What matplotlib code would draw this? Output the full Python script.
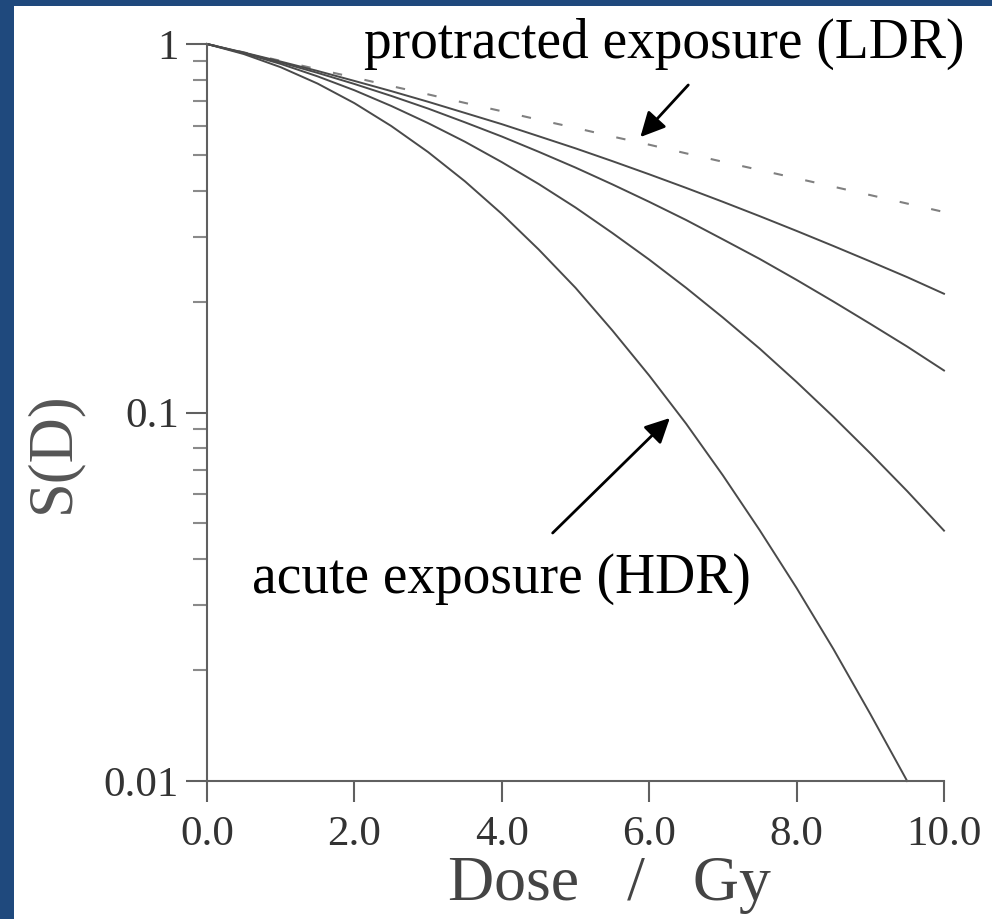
import matplotlib.pyplot as plt
from matplotlib.patches import Rectangle
from matplotlib.ticker import FixedLocator, FixedFormatter

# dose points (Gy) and surviving fractions
dose = [0.0, 0.5, 1.0, 1.5, 2.0, 2.5, 3.0, 3.5, 4.0, 4.5, 5.0,
        5.5, 6.0, 6.5, 7.0, 7.5, 8.0, 8.5, 9.0, 9.5, 10.0]

s_ldr = [1.0, 0.949, 0.900, 0.854, 0.811, 0.769, 0.730, 0.692, 0.657, 0.623, 0.592,
         0.561, 0.533, 0.505, 0.479, 0.455, 0.432, 0.410, 0.389, 0.369, 0.350]
s_mid1 = [1.0, 0.948, 0.896, 0.845, 0.794, 0.745, 0.697, 0.650, 0.606, 0.562, 0.521,
          0.481, 0.443, 0.407, 0.373, 0.341, 0.311, 0.283, 0.257, 0.233, 0.210]
s_mid2 = [1.0, 0.946, 0.891, 0.835, 0.779, 0.723, 0.668, 0.613, 0.561, 0.510, 0.462,
          0.416, 0.373, 0.333, 0.295, 0.261, 0.229, 0.200, 0.174, 0.151, 0.130]
s_mid3 = [1.0, 0.944, 0.883, 0.817, 0.749, 0.679, 0.610, 0.543, 0.478, 0.417, 0.360,
          0.307, 0.260, 0.218, 0.181, 0.149, 0.121, 0.0973, 0.0775, 0.0612, 0.0478]
dose_hdr = dose[:20]
s_hdr = [1.0, 0.939, 0.865, 0.781, 0.691, 0.599, 0.509, 0.424, 0.346, 0.277, 0.218,
         0.167, 0.126, 0.0933, 0.0675, 0.0479, 0.0334, 0.0228, 0.0152, 0.0100]

x_ticks = [0, 2, 4, 6, 8, 10]
x_labels = ["0.0", "2.0", "4.0", "6.0", "8.0", "10.0"]
y_ticks = [0.01, 0.1, 1]
y_labels = ["0.01", "0.1", "1"]

serif = "Liberation Serif"

fig = plt.figure(figsize=(9.92, 9.19), dpi=100, facecolor="#1F497D")
# white slide area inside the blue frame (left and top)
fig.patches.append(Rectangle((14 / 992, 0), 1, 1 - 6 / 919, transform=fig.transFigure,
                             facecolor="white", edgecolor="none", zorder=-10))

ax = fig.add_axes([207 / 992, 1 - 781 / 919, (944 - 207) / 992, (781 - 44) / 919])
ax.set_facecolor("none")

line_col = "#4a4a4a"
ax.plot(dose, s_ldr, color="#808080", lw=1.5, dashes=(4.5, 11), clip_on=False)
ax.plot(dose, s_mid1, color=line_col, lw=1.4, clip_on=False)
ax.plot(dose, s_mid2, color=line_col, lw=1.4, clip_on=False)
ax.plot(dose, s_mid3, color=line_col, lw=1.4, clip_on=False)
ax.plot(dose_hdr, s_hdr, color=line_col, lw=1.4, clip_on=False)

ax.set_yscale("log")
ax.set_xlim(0, 10)
ax.set_ylim(0.01, 1)

ax.xaxis.set_major_locator(FixedLocator(x_ticks))
ax.xaxis.set_major_formatter(FixedFormatter(x_labels))
ax.yaxis.set_major_locator(FixedLocator(y_ticks))
ax.yaxis.set_major_formatter(FixedFormatter(y_labels))
ax.xaxis.set_minor_locator(FixedLocator([]))

for sp in ["top", "right"]:
    ax.spines[sp].set_visible(False)
for sp in ["left", "bottom"]:
    ax.spines[sp].set_color("#606060")
    ax.spines[sp].set_linewidth(1.5)

ax.tick_params(axis="both", which="major", direction="out", length=15, width=1.5,
               color="#606060", labelcolor="#333333", labelsize=31, pad=5)
ax.tick_params(axis="x", which="major", pad=10)
ax.tick_params(axis="y", which="minor", direction="out", length=10, width=1.5,
               color="#8a8a8a")
for lab in ax.get_xticklabels() + ax.get_yticklabels():
    lab.set_family(serif)

fig.text(53 / 992, 1 - 452 / 919, "S(D)", rotation=90, ha="center", va="center",
         family=serif, fontsize=45, color="#555555")
fig.text(609 / 992, 1 - 885 / 919, "Dose   /   Gy", ha="center", va="center",
         family=serif, fontsize=46, color="#444444")

ax.text(6.21, 0.916, "protracted exposure (LDR)", ha="center", va="baseline",
        family=serif, fontsize=40, color="black")
ax.text(4.0, 0.0324, "acute exposure (HDR)", ha="center", va="baseline",
        family=serif, fontsize=40, color="black")

arrow = dict(arrowstyle="-|>,head_length=0.6,head_width=0.3", color="black",
             lw=2, mutation_scale=25, shrinkA=0, shrinkB=0)
ax.annotate("", xy=(5.88, 0.559), xytext=(6.53, 0.774), arrowprops=arrow)
ax.annotate("", xy=(6.28, 0.0966), xytext=(4.69, 0.0471), arrowprops=arrow)

plt.savefig("out.png", dpi=100, facecolor=fig.get_facecolor())
